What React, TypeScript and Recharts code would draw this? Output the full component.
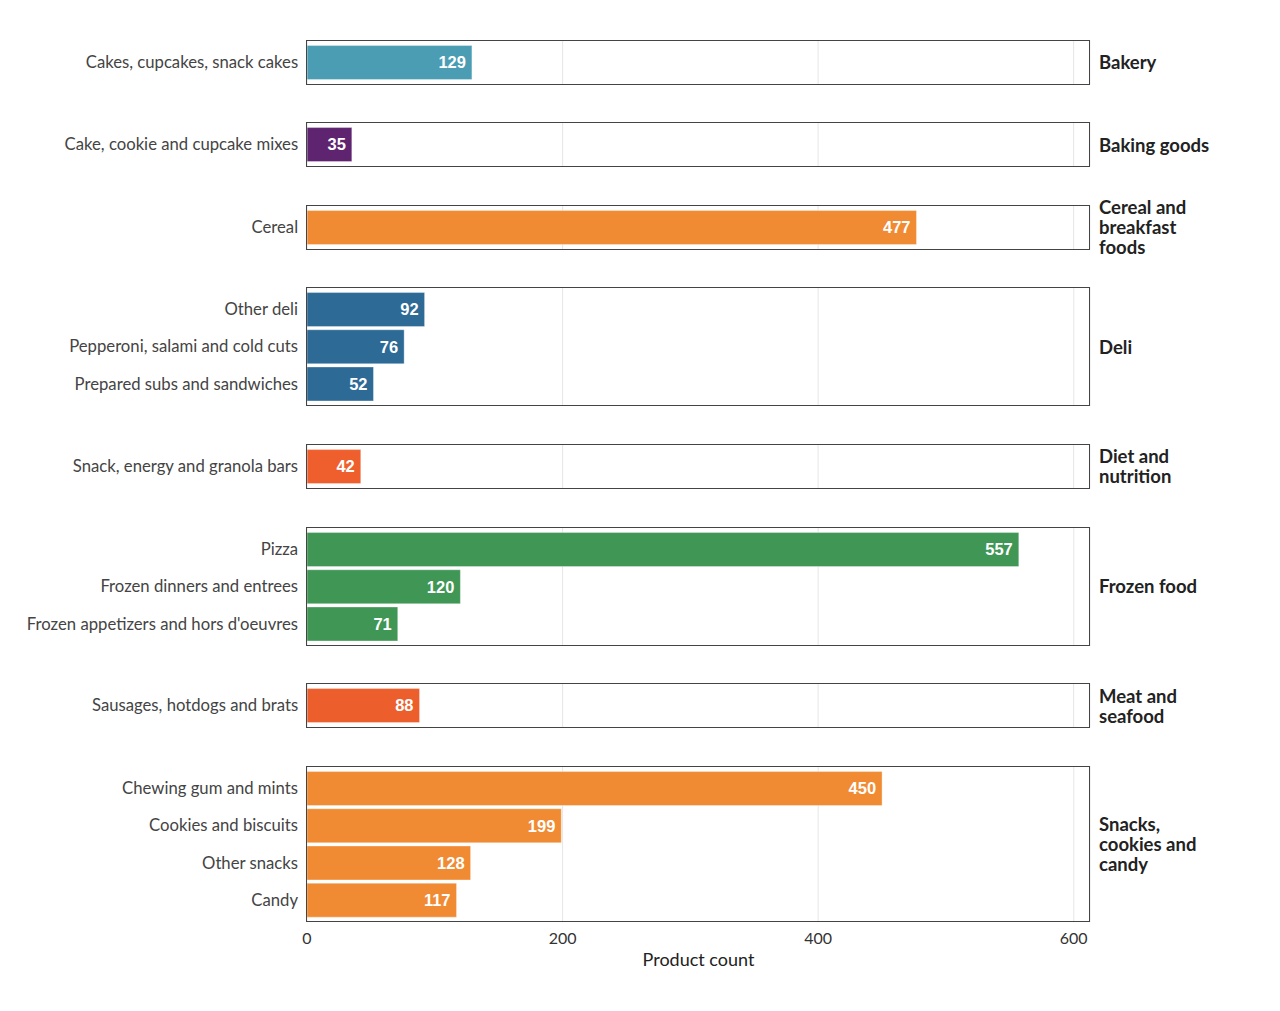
import React from "react";
import { BarChart, Bar, XAxis, YAxis, CartesianGrid, LabelList } from "recharts";

// Products per category, grouped by store department
const categories = [
  "Cakes, cupcakes, snack cakes",
  "Cake, cookie and cupcake mixes",
  "Cereal",
  "Other deli",
  "Pepperoni, salami and cold cuts",
  "Prepared subs and sandwiches",
  "Snack, energy and granola bars",
  "Pizza",
  "Frozen dinners and entrees",
  "Frozen appetizers and hors d'oeuvres",
  "Sausages, hotdogs and brats",
  "Chewing gum and mints",
  "Cookies and biscuits",
  "Other snacks",
  "Candy",
];
const productCounts = [129, 35, 477, 92, 76, 52, 42, 557, 120, 71, 88, 450, 199, 128, 117];
const categoryDepartments = [
  "Bakery",
  "Baking goods",
  "Cereal and breakfast foods",
  "Deli",
  "Deli",
  "Deli",
  "Diet and nutrition",
  "Frozen food",
  "Frozen food",
  "Frozen food",
  "Meat and seafood",
  "Snacks, cookies and candy",
  "Snacks, cookies and candy",
  "Snacks, cookies and candy",
  "Snacks, cookies and candy",
];
const departments = [
  "Bakery",
  "Baking goods",
  "Cereal and breakfast foods",
  "Deli",
  "Diet and nutrition",
  "Frozen food",
  "Meat and seafood",
  "Snacks, cookies and candy",
];
// Facet strip text, wrapped onto lines
const departmentLabelLines = [
  ["Bakery"],
  ["Baking goods"],
  ["Cereal and", "breakfast", "foods"],
  ["Deli"],
  ["Diet and", "nutrition"],
  ["Frozen food"],
  ["Meat and", "seafood"],
  ["Snacks,", "cookies and", "candy"],
];
const departmentColors = [
  "#4a9db2",
  "#5e2470",
  "#f08b33",
  "#2e6a96",
  "#ef5f2e",
  "#3f9655",
  "#ec5e2b",
  "#f08b33",
];
const xTicks = [0, 200, 400, 600];

const X_MAX = Math.max(...productCounts) * 1.1;
const UNIT = 37.2; // height of one category band
const PANEL_GAP = 37.8;
const FIRST_TOP = 40;
const PLOT_LEFT = 307;
const PLOT_RIGHT = 1090;
const CHART_W = 1280;
const AXIS_H = 60;

const labelFont = "Lato, 'Open Sans', sans-serif";
const valueFont = "'Liberation Sans', Arial, sans-serif";

type Row = { item: string; count: number };

function Panel({
  rows,
  color,
  lines,
  top,
  showAxis,
}: {
  rows: Row[];
  color: string;
  lines: string[];
  top: number;
  showAxis: boolean;
}) {
  const plotH = (rows.length + 0.2) * UNIT;
  const pad = 0.1 * UNIT;
  const h = plotH + (showAxis ? AXIS_H : 0);
  return (
    <div style={{ position: "absolute", left: 0, top, width: CHART_W, height: h }}>
      <BarChart
        width={CHART_W}
        height={h}
        data={rows}
        layout="vertical"
        margin={{ top: 0, right: CHART_W - PLOT_RIGHT, bottom: 0, left: 0 }}
        barCategoryGap={(UNIT - 33.5) / 2}
      >
        <CartesianGrid horizontal={false} stroke="#e6e6e6" strokeWidth={1} />
        <XAxis
          type="number"
          domain={[0, X_MAX]}
          ticks={xTicks}
          hide={!showAxis}
          height={showAxis ? AXIS_H : 0}
          axisLine={false}
          tickLine={false}
          tickSize={0}
          tickMargin={10}
          tick={{ fontFamily: labelFont, fontSize: 16, fill: "#333" }}
          label={
            showAxis
              ? {
                  value: "Product count",
                  position: "insideBottom",
                  offset: 16,
                  style: { fontFamily: labelFont, fontSize: 18, fill: "#222" },
                }
              : undefined
          }
        />
        <YAxis
          type="category"
          dataKey="item"
          width={PLOT_LEFT}
          axisLine={false}
          tickLine={false}
          tickSize={0}
          tickMargin={9}
          padding={{ top: pad, bottom: pad }}
          interval={0}
          tick={{ fontFamily: labelFont, fontSize: 16.7, fill: "#444" }}
        />
        <Bar
          dataKey="count"
          fill={color}
          stroke="rgba(255,255,255,0.35)"
          strokeWidth={1}
          isAnimationActive={false}
        >
          <LabelList
            dataKey="count"
            position="insideRight"
            offset={6}
            style={{ fontFamily: valueFont, fontSize: 16.5, fontWeight: 700, fill: "#fff" }}
          />
        </Bar>
      </BarChart>
      <div
        style={{
          position: "absolute",
          left: PLOT_LEFT - 1,
          top: 0,
          width: PLOT_RIGHT - PLOT_LEFT + 1,
          height: plotH,
          border: "1.5px solid #444",
          boxSizing: "border-box",
          pointerEvents: "none",
        }}
      />
      <div
        style={{
          position: "absolute",
          left: PLOT_RIGHT + 9,
          top: 0,
          height: plotH,
          display: "flex",
          flexDirection: "column",
          justifyContent: "center",
          fontFamily: labelFont,
          fontWeight: 700,
          fontSize: 18.5,
          lineHeight: "20px",
          color: "#222",
          whiteSpace: "nowrap",
        }}
      >
        {lines.map((l) => (
          <div key={l}>{l}</div>
        ))}
      </div>
    </div>
  );
}

export default function App() {
  let top = FIRST_TOP;
  const panels = departments.map((dept, di) => {
    const rows: Row[] = categories
      .map((item, i) => ({ item, count: productCounts[i], dept: categoryDepartments[i] }))
      .filter((r) => r.dept === dept)
      .map(({ item, count }) => ({ item, count }));
    const panelTop = top;
    top += (rows.length + 0.2) * UNIT + PANEL_GAP;
    return (
      <Panel
        key={dept}
        rows={rows}
        color={departmentColors[di]}
        lines={departmentLabelLines[di]}
        top={panelTop}
        showAxis={di === departments.length - 1}
      />
    );
  });
  return (
    <div
      style={{
        position: "absolute",
        left: 0,
        top: 0,
        width: 1280,
        height: 1011,
        background: "#fff",
      }}
    >
      {panels}
    </div>
  );
}
